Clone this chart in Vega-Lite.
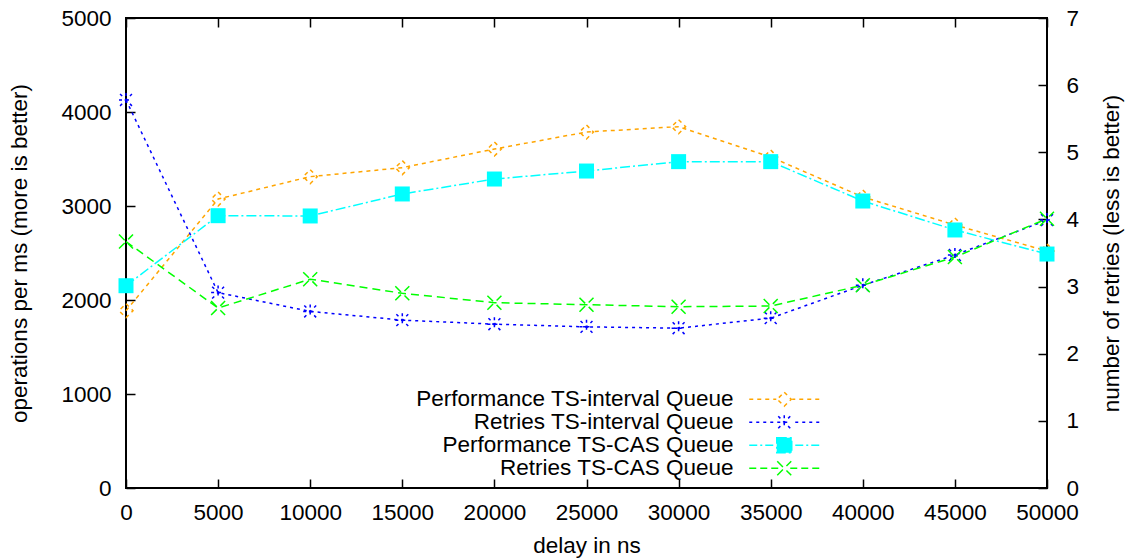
{
  "$schema": "https://vega.github.io/schema/vega-lite/v6.json",
  "width": 921,
  "height": 470,
  "autosize": {"type": "none"},
  "padding": {"left": 126, "top": 18, "right": 79, "bottom": 71},
  "background": "white",
  "config": {
    "font": "Liberation Sans",
    "view": {"stroke": "black", "strokeWidth": 2},
    "axis": {
      "labelFont": "Liberation Sans",
      "titleFont": "Liberation Sans",
      "labelFontSize": 22.5,
      "titleFontSize": 22.5,
      "titleFontWeight": "normal",
      "labelColor": "black",
      "titleColor": "black",
      "tickColor": "black",
      "tickSize": -9,
      "tickWidth": 1.5,
      "labelFlush": false,
      "domain": false,
      "grid": false
    }
  },
  "data": {
    "values": [
      {"delay": 0, "series": "Performance TS-interval Queue", "value": 1886},
      {"delay": 5000, "series": "Performance TS-interval Queue", "value": 3074},
      {"delay": 10000, "series": "Performance TS-interval Queue", "value": 3312},
      {"delay": 15000, "series": "Performance TS-interval Queue", "value": 3408},
      {"delay": 20000, "series": "Performance TS-interval Queue", "value": 3606},
      {"delay": 25000, "series": "Performance TS-interval Queue", "value": 3787},
      {"delay": 30000, "series": "Performance TS-interval Queue", "value": 3844},
      {"delay": 35000, "series": "Performance TS-interval Queue", "value": 3521},
      {"delay": 40000, "series": "Performance TS-interval Queue", "value": 3096},
      {"delay": 45000, "series": "Performance TS-interval Queue", "value": 2798},
      {"delay": 50000, "series": "Performance TS-interval Queue", "value": 2521},
      {"delay": 0, "series": "Retries TS-interval Queue", "value": 5.78},
      {"delay": 5000, "series": "Retries TS-interval Queue", "value": 2.91},
      {"delay": 10000, "series": "Retries TS-interval Queue", "value": 2.63},
      {"delay": 15000, "series": "Retries TS-interval Queue", "value": 2.5},
      {"delay": 20000, "series": "Retries TS-interval Queue", "value": 2.44},
      {"delay": 25000, "series": "Retries TS-interval Queue", "value": 2.4},
      {"delay": 30000, "series": "Retries TS-interval Queue", "value": 2.38},
      {"delay": 35000, "series": "Retries TS-interval Queue", "value": 2.53},
      {"delay": 40000, "series": "Retries TS-interval Queue", "value": 3.02},
      {"delay": 45000, "series": "Retries TS-interval Queue", "value": 3.47},
      {"delay": 50000, "series": "Retries TS-interval Queue", "value": 3.99},
      {"delay": 0, "series": "Performance TS-CAS Queue", "value": 2152},
      {"delay": 5000, "series": "Performance TS-CAS Queue", "value": 2897},
      {"delay": 10000, "series": "Performance TS-CAS Queue", "value": 2894},
      {"delay": 15000, "series": "Performance TS-CAS Queue", "value": 3128},
      {"delay": 20000, "series": "Performance TS-CAS Queue", "value": 3287},
      {"delay": 25000, "series": "Performance TS-CAS Queue", "value": 3372},
      {"delay": 30000, "series": "Performance TS-CAS Queue", "value": 3472},
      {"delay": 35000, "series": "Performance TS-CAS Queue", "value": 3472},
      {"delay": 40000, "series": "Performance TS-CAS Queue", "value": 3053},
      {"delay": 45000, "series": "Performance TS-CAS Queue", "value": 2745},
      {"delay": 50000, "series": "Performance TS-CAS Queue", "value": 2489},
      {"delay": 0, "series": "Retries TS-CAS Queue", "value": 3.67},
      {"delay": 5000, "series": "Retries TS-CAS Queue", "value": 2.68},
      {"delay": 10000, "series": "Retries TS-CAS Queue", "value": 3.11},
      {"delay": 15000, "series": "Retries TS-CAS Queue", "value": 2.9},
      {"delay": 20000, "series": "Retries TS-CAS Queue", "value": 2.76},
      {"delay": 25000, "series": "Retries TS-CAS Queue", "value": 2.73},
      {"delay": 30000, "series": "Retries TS-CAS Queue", "value": 2.7},
      {"delay": 35000, "series": "Retries TS-CAS Queue", "value": 2.71},
      {"delay": 40000, "series": "Retries TS-CAS Queue", "value": 3.02},
      {"delay": 45000, "series": "Retries TS-CAS Queue", "value": 3.44},
      {"delay": 50000, "series": "Retries TS-CAS Queue", "value": 4.01}
    ]
  },
  "encoding": {
    "color": {
      "field": "series",
      "type": "nominal",
      "scale": {
        "domain": ["Performance TS-interval Queue", "Retries TS-interval Queue", "Performance TS-CAS Queue", "Retries TS-CAS Queue"],
        "range": ["#ffa500", "#0000ff", "#00ffff", "#00ff00"]
      },
      "legend": {
        "title": null,
        "orient": "none",
        "legendX": 647,
        "legendY": 370,
        "padding": 0,
        "labelAlign": "right",
        "labelOffset": -62,
        "labelFont": "Liberation Sans",
        "labelFontSize": 22.5,
        "labelColor": "black",
        "labelLimit": 0,
        "symbolSize": 4,
        "symbolStrokeWidth": 1.5,
        "rowPadding": -1.8,
        "encode": {
          "symbols": {
            "update": {
              "shape": {"signal": "datum.value === 'Performance TS-interval Queue' ? 'M-35,0L-31,0M-27,0L-23,0M-19,0L-15,0M-11,0L-8,0M8,0L11,0M15,0L19,0M23,0L27,0M31,0L35,0M0,-7L7,0L0,7L-7,0Z' : datum.value === 'Retries TS-interval Queue' ? 'M-35,0L-32,0M-28,0L-25,0M-21,0L-18,0M-14,0L-11,0M11,0L14,0M18,0L21,0M25,0L28,0M32,0L35,0M-7,0L7,0M0,-7L0,7M-6,-6L6,6M-6,6L6,-6' : datum.value === 'Performance TS-CAS Queue' ? 'M-35,0L-27,0M-24,0L-22,0M-19,0L-11,0M11,0L19,0M22,0L24,0M27,0L35,0M-7.5,-7.5L7.5,-7.5L7.5,7.5L-7.5,7.5Z' : 'M-35,0L-28,0M-24,0L-17,0M-13,0L-6,0M6,0L13,0M17,0L24,0M28,0L35,0M-7,-7L7,7M-7,7L7,-7'"},
              "size": {"value": 4},
              "stroke": {"scale": "color", "field": "value"},
              "fill": {"signal": "datum.value === 'Performance TS-CAS Queue' ? '#00ffff' : 'white'"},
              "fillOpacity": {"signal": "datum.value === 'Performance TS-CAS Queue' ? 1 : 0"},
              "strokeDash": {"value": [1, 0]},
              "strokeWidth": {"value": 1.5},
              "opacity": {"value": 1}
            }
          }
        }
      }
    },
    "strokeDash": {
      "field": "series",
      "type": "nominal",
      "scale": {
        "domain": ["Performance TS-interval Queue", "Retries TS-interval Queue", "Performance TS-CAS Queue", "Retries TS-CAS Queue"],
        "range": [[4, 4], [3, 4], [10, 3, 2, 3], [8, 5]]
      },
      "legend": null
    }
  },
  "layer": [
    {
      "transform": [{"filter": {"field": "series", "oneOf": ["Performance TS-interval Queue", "Performance TS-CAS Queue"]}}],
      "encoding": {
        "x": {
          "field": "delay",
          "type": "quantitative",
          "scale": {"domain": [0, 50000], "nice": false},
          "axis": {
            "orient": "bottom",
            "values": [0, 5000, 10000, 15000, 20000, 25000, 30000, 35000, 40000, 45000, 50000],
            "format": "d",
            "title": "delay in ns",
            "labelPadding": 22,
            "titlePadding": 11
          }
        },
        "y": {
          "field": "value",
          "type": "quantitative",
          "scale": {"domain": [0, 5000], "nice": false},
          "axis": {
            "orient": "left",
            "values": [0, 1000, 2000, 3000, 4000, 5000],
            "format": "d",
            "title": "operations per ms (more is better)",
            "labelPadding": 24,
            "titlePadding": 29
          }
        }
      },
      "layer": [
        {"mark": {"type": "line", "strokeWidth": 1.5}},
        {
          "transform": [{"filter": {"field": "series", "equal": "Performance TS-interval Queue"}}],
          "mark": {"type": "point", "filled": false, "shape": "M0,-1L1,0L0,1L-1,0Z", "size": 196, "strokeWidth": 1.5, "opacity": 1}
        },
        {
          "transform": [{"filter": {"field": "series", "equal": "Performance TS-CAS Queue"}}],
          "mark": {"type": "point", "filled": true, "shape": "square", "size": 225, "opacity": 1}
        }
      ]
    },
    {
      "transform": [{"filter": {"field": "series", "oneOf": ["Retries TS-interval Queue", "Retries TS-CAS Queue"]}}],
      "encoding": {
        "x": {
          "field": "delay",
          "type": "quantitative",
          "scale": {"domain": [0, 50000], "nice": false},
          "axis": {
            "orient": "top",
            "values": [0, 5000, 10000, 15000, 20000, 25000, 30000, 35000, 40000, 45000, 50000],
            "labels": false,
            "title": null
          }
        },
        "y": {
          "field": "value",
          "type": "quantitative",
          "scale": {"domain": [0, 7], "nice": false},
          "axis": {
            "orient": "right",
            "values": [0, 1, 2, 3, 4, 5, 6, 7],
            "format": "d",
            "title": "number of retries (less is better)",
            "titleAngle": 270,
            "titleBaseline": "top",
            "labelPadding": 28,
            "titlePadding": 22
          }
        }
      },
      "layer": [
        {"mark": {"type": "line", "strokeWidth": 1.5}},
        {
          "transform": [{"filter": {"field": "series", "equal": "Retries TS-interval Queue"}}],
          "mark": {"type": "point", "filled": false, "shape": "M-1,0L1,0M0,-1L0,1M-0.85,-0.85L0.85,0.85M-0.85,0.85L0.85,-0.85", "size": 196, "strokeWidth": 1.5, "opacity": 1}
        },
        {
          "transform": [{"filter": {"field": "series", "equal": "Retries TS-CAS Queue"}}],
          "mark": {"type": "point", "filled": false, "shape": "M-1,-1L1,1M-1,1L1,-1", "size": 196, "strokeWidth": 1.5, "opacity": 1}
        }
      ]
    }
  ],
  "resolve": {"scale": {"y": "independent"}, "axis": {"x": "independent"}}
}
